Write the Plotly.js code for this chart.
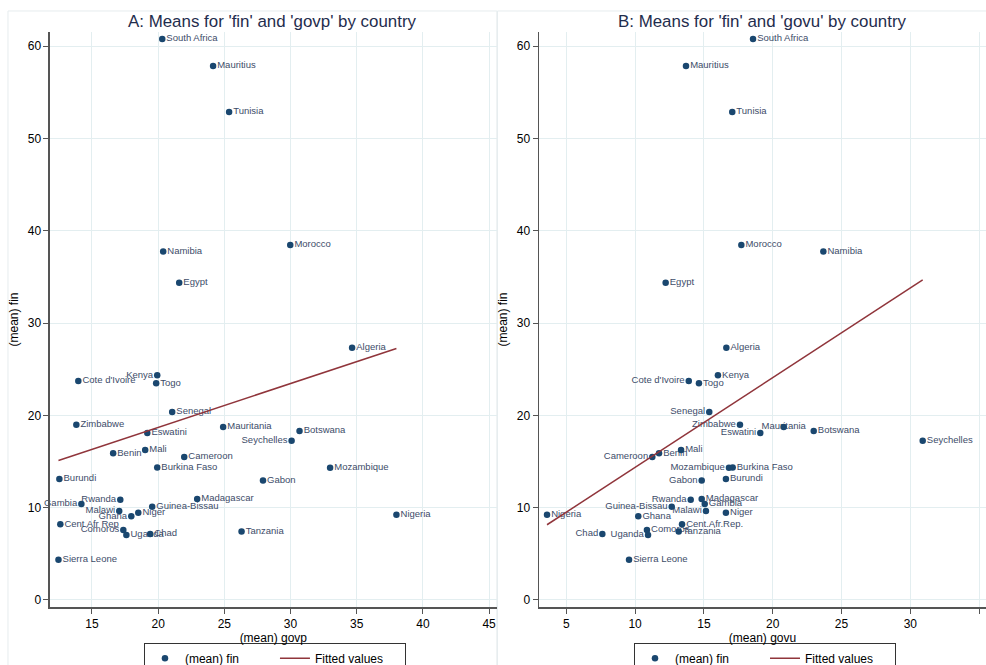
<!DOCTYPE html>
<html>
<head>
<meta charset="utf-8">
<script src="https://cdn.plot.ly/plotly-3.0.1.min.js"></script>
<style>
html,body{margin:0;padding:0;background:#ffffff;}
#chart{width:986px;height:665px;}
</style>
</head>
<body>
<div id="chart"></div>
<script>
// ---------- data ----------
const countries = ["South Africa","Mauritius","Tunisia","Namibia","Morocco","Egypt","Algeria","Kenya","Cote d'Ivoire","Togo",
  "Senegal","Zimbabwe","Mauritania","Botswana","Eswatini","Seychelles","Benin","Mali","Cameroon","Burkina Faso",
  "Mozambique","Burundi","Gabon","Madagascar","Rwanda","Gambia","Guinea-Bissau","Malawi","Niger","Ghana",
  "Nigeria","Cent Afr Rep","Tanzania","Comoros","Uganda","Chad","Sierra Leone"];
const labelsB = ["South Africa","Mauritius","Tunisia","Namibia","Morocco","Egypt","Algeria","Kenya","Cote d'Ivoire","Togo",
  "Senegal","Zimbabwe","Mauritania","Botswana","Eswatini","Seychelles","Benin","Mali","Cameroon","Burkina Faso",
  "Mozambique","Burundi","Gabon","Madagascar","Rwanda","Gambia","Guinea-Bissau","Malawi","Niger","Ghana",
  "Nigeria","Cent.Afr.Rep.","Tanzania","Comoros","Uganda","Chad","Sierra Leone"];
const govp = [20.31,24.15,25.36,20.38,29.98,21.59,34.65,19.93,13.97,19.85,
  21.06,13.82,24.91,30.68,19.18,30.08,16.60,19.02,21.97,19.93,
  32.99,12.54,27.92,22.95,17.14,14.20,19.55,17.06,18.50,17.97,
  38.00,12.61,26.30,17.37,17.60,19.40,12.47];
const govu = [18.57,13.70,17.06,23.68,17.72,12.22,16.63,16.02,13.90,14.64,
  15.39,17.62,20.80,22.98,19.10,30.90,11.74,13.34,11.25,17.09,
  16.82,16.60,14.84,14.84,14.04,15.06,12.66,15.15,16.60,10.23,
  3.60,13.41,13.17,10.86,10.94,7.62,9.56];
const fin = [60.76,57.84,52.85,37.75,38.45,34.35,27.31,24.33,23.73,23.48,
  20.35,18.97,18.74,18.30,18.09,17.25,15.90,16.25,15.49,14.35,
  14.32,13.10,12.95,10.95,10.85,10.40,10.10,9.64,9.44,9.08,
  9.24,8.21,7.43,7.58,7.04,7.15,4.35];
const yTicks = [0,10,20,30,40,50,60];
const xTicksA = [15,20,25,30,35,40,45];
const xTicksB = [5,10,15,20,25,30,35];

// ---------- label placement (style) ----------
const leftA = ["Kenya","Gambia","Rwanda","Malawi","Ghana","Comoros","Seychelles"];
const leftB = ["Cote d'Ivoire","Senegal","Zimbabwe","Eswatini","Cameroon","Mozambique","Gabon","Rwanda","Guinea-Bissau","Malawi","Chad","Uganda"];
const centerB = ["Mauritania"];
const posA = countries.map(c => leftA.includes(c) ? "middle left" : "middle right");
const posB = countries.map(c => centerB.includes(c) ? "middle center" : (leftB.includes(c) ? "middle left" : "middle right"));

// ---------- linear fit ----------
function linfit(x, y) {
  const n = x.length;
  const mx = x.reduce((a,b)=>a+b,0)/n, my = y.reduce((a,b)=>a+b,0)/n;
  let sxy = 0, sxx = 0;
  for (let i=0;i<n;i++){ sxy += (x[i]-mx)*(y[i]-my); sxx += (x[i]-mx)*(x[i]-mx); }
  const b = sxy/sxx, a = my - b*mx;
  const xs = [Math.min(...x), Math.max(...x)];
  return {x: xs, y: xs.map(v => a + b*v)};
}
const fitA = linfit(govp, fin);
const fitB = linfit(govu, fin);

// ---------- styles ----------
const FONT = "Liberation Sans, Arial, sans-serif";
const dotColor = "#1a476f";
const labColor = "#3d4c69";
const lineColor = "#90353b";
const gridColor = "#e3eef0";
const axisColor = "#555555";

const traces = [
  {x: govp, y: fin, text: countries, type: "scatter", mode: "markers+text", textposition: posA, cliponaxis: false,
   marker: {color: "rgba(0,0,0,0)", size: 5}, textfont: {family: FONT, size: 9.5, color: labColor},
   xaxis: "x", yaxis: "y", showlegend: false, hoverinfo: "skip"},
  {x: govp, y: fin, type: "scatter", mode: "markers", name: "(mean) fin",
   marker: {color: dotColor, size: 6.5}, xaxis: "x", yaxis: "y", legend: "legend", hoverinfo: "skip"},
  {x: fitA.x, y: fitA.y, type: "scatter", mode: "lines", name: "Fitted values",
   line: {color: lineColor, width: 1.5}, xaxis: "x", yaxis: "y", legend: "legend", hoverinfo: "skip"},
  {x: govu, y: fin, text: labelsB, type: "scatter", mode: "markers+text", textposition: posB, cliponaxis: false,
   marker: {color: "rgba(0,0,0,0)", size: 5}, textfont: {family: FONT, size: 9.5, color: labColor},
   xaxis: "x2", yaxis: "y2", showlegend: false, hoverinfo: "skip"},
  {x: govu, y: fin, type: "scatter", mode: "markers", name: "(mean) fin",
   marker: {color: dotColor, size: 6.5}, xaxis: "x2", yaxis: "y2", legend: "legend2", hoverinfo: "skip"},
  {x: fitB.x, y: fitB.y, type: "scatter", mode: "lines", name: "Fitted values",
   line: {color: lineColor, width: 1.5}, xaxis: "x2", yaxis: "y2", legend: "legend2", hoverinfo: "skip"}
];

function xax(domain, range, ticks, title, anchor) {
  return {domain: domain, range: range, tickvals: ticks, ticktext: ticks.map(String),
    ticks: "outside", ticklen: 5, tickwidth: 1, tickcolor: axisColor,
    showline: true, linecolor: axisColor, linewidth: 1.5, mirror: false,
    showgrid: true, gridcolor: gridColor, gridwidth: 1, zeroline: false,
    tickfont: {family: FONT, size: 12, color: "#000"}, anchor: anchor, automargin: false,
    title: {text: title, font: {family: FONT, size: 12, color: "#000"}, standoff: 0}, fixedrange: true};
}
function yax(domain, range, anchor) {
  return {domain: domain, range: range, tickvals: yTicks, ticktext: yTicks.map(String),
    ticks: "outside", ticklen: 5, tickwidth: 1, tickcolor: axisColor,
    showline: true, linecolor: axisColor, linewidth: 1.5, mirror: false,
    showgrid: true, gridcolor: gridColor, gridwidth: 1, zeroline: false,
    tickfont: {family: FONT, size: 12, color: "#000"}, anchor: anchor, automargin: false,
    title: {text: "(mean) fin", font: {family: FONT, size: 12, color: "#000"}, standoff: 6}, fixedrange: true};
}

const yDom = [0.0868, 0.9523];
const legendBase = {orientation: "h", xanchor: "left", y: 0.0335, yanchor: "top",
  bordercolor: "#333333", borderwidth: 1, bgcolor: "#ffffff", entrywidth: 85, entrywidthmode: "pixels",
  font: {family: FONT, size: 12, color: "#000"}, traceorder: "normal"};
const layout = {
  width: 986, height: 665,
  margin: {l: 0, r: 0, t: 0, b: 0, autoexpand: false},
  paper_bgcolor: "#ffffff", plot_bgcolor: "#ffffff",
  font: {family: FONT, size: 12, color: "#000"},
  xaxis: xax([0.0507, 0.5037], [11.83, 45.57], xTicksA, "(mean) govp", "y"),
  yaxis: yax(yDom, [-0.79, 61.55], "x"),
  xaxis2: xax([0.5467, 1.0], [3.02, 35.5], xTicksB, "(mean) govu", "y2"),
  yaxis2: yax(yDom, [-0.79, 61.55], "x2"),
  legend: Object.assign({}, legendBase, {x: 0.146}),
  legend2: Object.assign({}, legendBase, {x: 0.643}),
  annotations: [
    {text: "A: Means for 'fin' and 'govp' by country", xref: "paper", yref: "paper",
     x: 0.2762, y: 0.9684, xanchor: "center", yanchor: "middle", showarrow: false,
     font: {family: FONT, size: 16.9, color: "#1f2d4d"}},
    {text: "B: Means for 'fin' and 'govu' by country", xref: "paper", yref: "paper",
     x: 0.7733, y: 0.9684, xanchor: "center", yanchor: "middle", showarrow: false,
     font: {family: FONT, size: 16.9, color: "#1f2d4d"}}
  ],
  shapes: [
    {type: "rect", xref: "paper", yref: "paper", x0: 0.0081, x1: 0.504, y0: -0.05, y1: 0.9835,
     line: {color: "#e6ecee", width: 1}, layer: "below"},
    {type: "rect", xref: "paper", yref: "paper", x0: 0.5045, x1: 1.05, y0: -0.05, y1: 0.9835,
     line: {color: "#e6ecee", width: 1}, layer: "below"}
  ],
  showlegend: true
};

Plotly.newPlot("chart", traces, layout, {staticPlot: true, displayModeBar: false});
</script>
</body>
</html>
